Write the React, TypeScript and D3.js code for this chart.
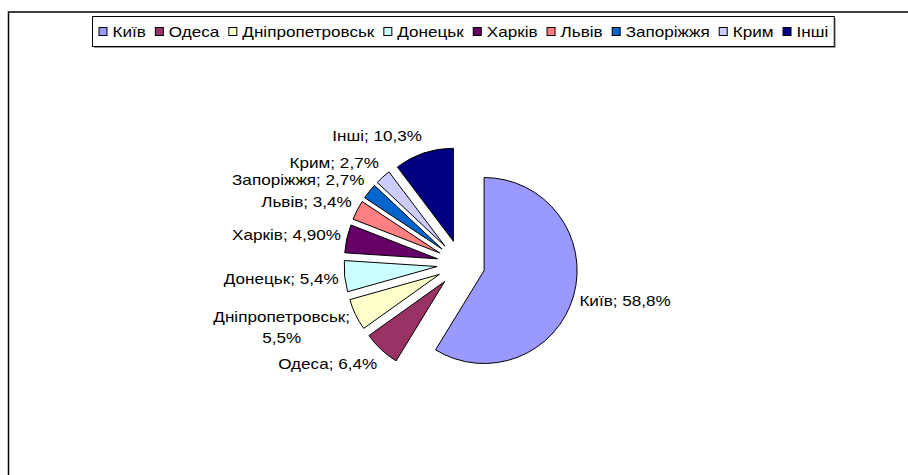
import React, { useEffect, useRef } from "react";
import * as d3 from "d3";

const categories = ["Київ", "Одеса", "Дніпропетровськ", "Донецьк", "Харків", "Львів", "Запоріжжя", "Крим", "Інші"];
const values = [58.8, 6.4, 5.5, 5.4, 4.9, 3.4, 2.7, 2.7, 10.3];
const valueLabels = ["58,8%", "6,4%", "5,5%", "5,4%", "4,90%", "3,4%", "2,7%", "2,7%", "10,3%"];
const colors = ["#9999FF", "#993366", "#FFFFCC", "#CCFFFF", "#660066", "#FF8080", "#0066CC", "#CCCCFF", "#000080"];

const W = 908;
const H = 475;
const FONT = "'Liberation Sans', Arial, Helvetica, sans-serif";
const FS = 15;
const STRETCH = 1.14;
const CX = 461;
const CY = 264;
const R = 93;
const EXPLODE = 24;
const GAP = 6;
const LH = 21;

function stretchText(sel: d3.Selection<SVGTextElement, any, any, any>): number[] {
  const ws: number[] = [];
  sel.each(function () {
    const w = (this as SVGTextElement).getComputedTextLength() * STRETCH;
    ws.push(w);
    d3.select(this).attr("textLength", w).attr("lengthAdjust", "spacingAndGlyphs");
  });
  return ws;
}

export default function App() {
  const ref = useRef<SVGSVGElement>(null);

  useEffect(() => {
    const svg = d3.select(ref.current);
    svg.selectAll("*").remove();

    // outer chart frame
    svg.append("rect")
      .attr("x", 8.5).attr("y", 12)
      .attr("width", W + 20).attr("height", H + 20)
      .attr("fill", "#fff").attr("stroke", "#000").attr("stroke-width", 1.5);

    // legend
    const lg = svg.append("g");
    const items = lg.selectAll("g.item").data(categories).join("g").attr("class", "item");
    items.append("rect")
      .attr("width", 8).attr("height", 8)
      .attr("fill", (_, i) => colors[i]).attr("stroke", "#000").attr("stroke-width", 1);
    const texts = items.append("text")
      .text(d => d)
      .attr("font-family", FONT).attr("font-size", FS)
      .attr("dominant-baseline", "central")
      .attr("fill", "#000");
    const widths = stretchText(texts as any);
    const pad = 6, sw = 9, swGap = 5, itemGap = 9;
    let total = pad;
    const xs: number[] = [];
    widths.forEach((w, i) => {
      xs.push(total);
      total += sw + swGap + w + (i < widths.length - 1 ? itemGap : 0);
    });
    total += pad;
    const boxX = Math.round(462.5 - total / 2) + 0.5;
    const boxY = 16.5, boxH = 30;
    lg.insert("rect", ":first-child")
      .attr("x", boxX + 1.5).attr("y", boxY + 1.5).attr("width", total).attr("height", boxH)
      .attr("fill", "#999");
    lg.insert("rect", "g")
      .attr("x", boxX).attr("y", boxY).attr("width", total).attr("height", boxH)
      .attr("fill", "#fff").attr("stroke", "#000").attr("stroke-width", 1);
    items.attr("transform", (_, i) => `translate(${boxX + xs[i]},${boxY + boxH / 2})`);
    items.select("rect").attr("x", 0.5).attr("y", -4);
    texts.attr("x", sw + swGap).attr("y", 0);

    // pie
    const pie = d3.pie<number>().sort(null).value(d => d).startAngle(0).endAngle(2 * Math.PI);
    const arcs = pie(values);
    const arc = d3.arc<d3.PieArcDatum<number>>().innerRadius(0).outerRadius(R);
    const pg = svg.append("g").attr("transform", `translate(${CX},${CY})`);
    pg.selectAll("path").data(arcs).join("path")
      .attr("d", d => arc(d) as string)
      .attr("transform", d => {
        const m = (d.startAngle + d.endAngle) / 2;
        return `translate(${EXPLODE * Math.sin(m)},${-EXPLODE * Math.cos(m)})`;
      })
      .attr("fill", (_, i) => colors[i])
      .attr("stroke", "#000").attr("stroke-width", 1).attr("stroke-linejoin", "round");

    // data labels
    const lblG = svg.append("g");
    arcs.forEach((a, i) => {
      const m = (a.startAngle + a.endAngle) / 2;
      const dx = Math.sin(m), dy = -Math.cos(m);
      const full = `${categories[i]}; ${valueLabels[i]}`;
      const lines = full.length > 18 ? [`${categories[i]};`, valueLabels[i]] : [full];
      const px = CX + (R + EXPLODE + GAP) * dx;
      const py = CY + (R + EXPLODE + GAP) * dy;
      const h = (lines.length - 1) * LH + FS + 1;
      const centerY = py + dy * (h / 2 + 5);
      const g = lblG.append("g");
      const ts = g.selectAll("text").data(lines).join("text")
        .text(d => d)
        .attr("font-family", FONT).attr("font-size", FS)
        .attr("dominant-baseline", "central")
        .attr("fill", "#000")
        .attr("y", (_, j) => centerY - ((lines.length - 1) * LH) / 2 + j * LH);
      const lw = stretchText(ts as any);
      const maxW = Math.max(...lw);
      const left = dx < 0 ? px - maxW : px;
      ts.attr("text-anchor", "middle").attr("x", left + maxW / 2);
    });
  }, []);

  return (
    <svg
      ref={ref}
      width={W}
      height={H}
      style={{ position: "absolute", left: 0, top: 0, background: "#fff" }}
    />
  );
}
